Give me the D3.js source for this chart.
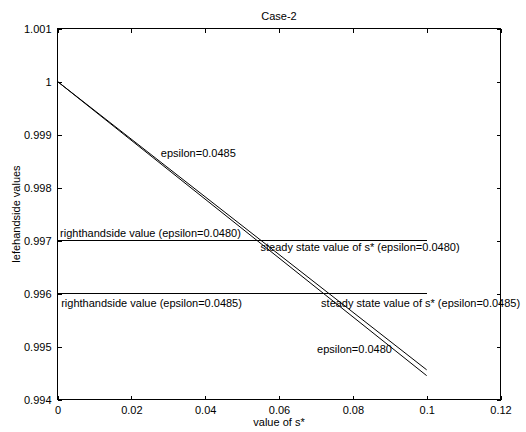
<!DOCTYPE html>
<html>
<head>
<meta charset="utf-8">
<script src="https://cdn.jsdelivr.net/npm/d3@7"></script>
<style>
  html, body { margin: 0; padding: 0; background: #fff; }
  text { font-family: "Liberation Sans", Arial, sans-serif; font-size: 11px; fill: #000; }
</style>
</head>
<body>
<svg id="chart" width="526" height="432"></svg>
<script>
// ---- data ----
const sValues = [0, 0.1];
const lhsEps0480 = [1, 0.99456];
const lhsEps0485 = [1, 0.99445];
const rhsLevels = [0.997, 0.996];          // righthandside values (eps 0.0480, 0.0485)
const rhsRange = [0, 0.1];
const xTicks = [0, 0.02, 0.04, 0.06, 0.08, 0.1, 0.12];
const xTickLabels = ["0", "0.02", "0.04", "0.06", "0.08", "0.1", "0.12"];
const yTicks = [0.994, 0.995, 0.996, 0.997, 0.998, 0.999, 1, 1.001];
const yTickLabels = ["0.994", "0.995", "0.996", "0.997", "0.998", "0.999", "1", "1.001"];
const annoText = [
  "righthandside value (epsilon=0.0480)",
  "righthandside value (epsilon=0.0485)",
  "steady state value of s* (epsilon=0.0480)",
  "steady state value of s* (epsilon=0.0485)",
  "epsilon=0.0485",
  "epsilon=0.0480"
];
const annoX = [0.0007, 0.001, 0.055, 0.0714, 0.028, 0.0703];
const annoY = [0.99706, 0.99575, 0.99681, 0.99575, 0.99857, 0.99488];

// ---- layout ----
const svg = d3.select("#chart");
const L = 57.5, R = 500.5, T = 28.5, B = 399.5;
const x = d3.scaleLinear().domain([0, 0.12]).range([L, R]);
const y = d3.scaleLinear().domain([0.994, 1.001]).range([B, T]);
const tk = 4;

// frame
svg.append("rect").attr("x", L).attr("y", T).attr("width", R - L).attr("height", B - T)
  .attr("fill", "none").attr("stroke", "#000").attr("stroke-width", 1)
  .attr("shape-rendering", "crispEdges");

// axes with inward ticks
const xAxisB = d3.axisBottom(x).tickValues(xTicks).tickSize(-tk).tickPadding(7)
  .tickFormat((d, i) => xTickLabels[i]);
const xAxisT = d3.axisTop(x).tickValues(xTicks).tickSize(-tk).tickFormat("");
const yAxisL = d3.axisLeft(y).tickValues(yTicks).tickSize(-tk).tickPadding(6)
  .tickFormat((d, i) => yTickLabels[i]);
const yAxisR = d3.axisRight(y).tickValues(yTicks).tickSize(-tk).tickFormat("");

function styleAxis(g) {
  g.select(".domain").remove();
  g.selectAll("line").attr("stroke", "#000").attr("shape-rendering", "crispEdges");
  g.selectAll("text").attr("font-family", null).attr("font-size", null).attr("fill", "#000");
}
svg.append("g").attr("transform", `translate(0,${B})`).call(xAxisB).call(styleAxis);
svg.append("g").attr("transform", `translate(0,${T})`).call(xAxisT).call(styleAxis);
svg.append("g").attr("transform", `translate(${L},0)`).call(yAxisL).call(styleAxis);
svg.append("g").attr("transform", `translate(${R},0)`).call(yAxisR).call(styleAxis);

// lines
const line = d3.line().x(d => x(d[0])).y(d => y(d[1]));
[lhsEps0480, lhsEps0485].forEach(vals => {
  svg.append("path").datum(sValues.map((s, i) => [s, vals[i]]))
    .attr("d", line).attr("fill", "none").attr("stroke", "#000").attr("stroke-width", 1);
});
rhsLevels.forEach(v => {
  svg.append("path").datum(rhsRange.map(s => [s, v]))
    .attr("d", line).attr("fill", "none").attr("stroke", "#000").attr("stroke-width", 1)
    .attr("shape-rendering", "crispEdges");
});

// annotations
annoText.forEach((t, i) => {
  svg.append("text").attr("x", x(annoX[i])).attr("y", y(annoY[i])).text(t);
});

// title and axis labels
svg.append("text").attr("x", (L + R) / 2).attr("y", 20).attr("text-anchor", "middle").text("Case-2");
svg.append("text").attr("x", (L + R) / 2).attr("y", 426).attr("text-anchor", "middle").text("value of s*");
svg.append("text").attr("transform", `translate(20,${(T + B) / 2}) rotate(-90)`)
  .attr("text-anchor", "middle").text("lefehandside values");
</script>
</body>
</html>
